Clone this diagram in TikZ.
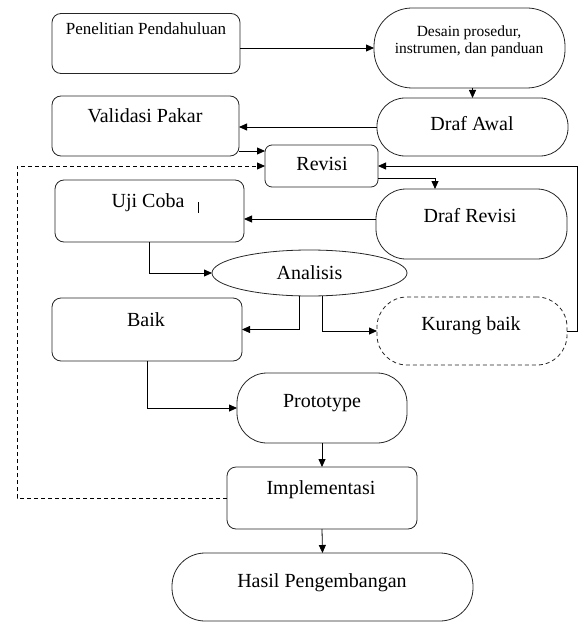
\documentclass[tikz,border=0pt]{standalone}
\usepackage{fontspec}
\setmainfont{Liberation Serif}
\usetikzlibrary{arrows.meta,calc,shapes.geometric}
\begin{document}
\begin{tikzpicture}[x=1pt,y=-1pt,
  box/.style={draw=black!85, line width=0.8pt, rounded corners=9pt, inner sep=0pt, outer sep=0pt},
  pill/.style={draw=black!85, line width=0.8pt, rounded corners=#1, inner sep=0pt, outer sep=0pt},
  lbl/.style={font=\fontsize{20}{24}\selectfont, inner sep=0pt, anchor=base},
  sml/.style={font=\fontsize{15.5}{18}\selectfont, inner sep=0pt, anchor=base},
  arr/.style={line width=0.8pt, -{Triangle[length=8pt,width=7pt]}},
  dsh/.style={dash pattern=on 4pt off 3pt}]
\useasboundingbox (0,0) rectangle (579,623);

% boxes
\node[box, minimum width=188pt, minimum height=60pt] (pen) at (146,43.5) {};
\node[pill=38pt, minimum width=191pt, minimum height=80pt] (des) at (469.5,48) {};
\node[box, minimum width=187pt, minimum height=60pt] (val) at (145.5,126) {};
\node[pill=28pt, minimum width=191pt, minimum height=58pt] (awal) at (472.5,127) {};
\node[box, rounded corners=7pt, minimum width=113pt, minimum height=42pt] (rev) at (321.5,166) {};
\node[box, minimum width=189pt, minimum height=62pt] (uji) at (149.5,211) {};
\node[pill=30pt, minimum width=191pt, minimum height=70pt] (drev) at (471.5,224) {};
\node[draw=black!85, line width=0.8pt, ellipse, inner sep=0pt, outer sep=0pt, minimum width=195pt, minimum height=46pt] (ana) at (309.5,273) {};
\node[box, minimum width=190pt, minimum height=63pt] (baik) at (147,329.5) {};
\node[pill=30pt, dsh, minimum width=190pt, minimum height=68pt] (kur) at (472,331) {};
\node[pill=30pt, minimum width=170pt, minimum height=70pt] (proto) at (322,408) {};
\node[box, minimum width=190pt, minimum height=62pt] (impl) at (322,498) {};
\node[pill=33pt, minimum width=301pt, minimum height=68pt] (hasil) at (322.5,587) {};

% texts (positioned by baseline)
\node[lbl, font=\fontsize{17}{20}\selectfont] (pentxt) at (146,35) {Penelitian Pendahuluan};
\node[sml] (destxta) at (469,37) {Desain prosedur,};
\node[sml] (destxtb) at (469,54) {instrumen, dan panduan};
\node[lbl] (valtxt) at (145,122) {Validasi Pakar};
\node[lbl] (awaltxt) at (472,130) {Draf Awal};
\node[lbl] (revtxt) at (322,170) {Revisi};
\node[lbl] (ujitxt) at (148,207) {Uji Coba};
\node[lbl] (drevtxt) at (470,222) {Draf Revisi};
\node[lbl] (anatxt) at (309.5,279) {Analisis};
\node[lbl] (baiktxt) at (146,326) {Baik};
\node[lbl] (kurtxt) at (471,330) {Kurang baik};
\node[lbl] (prototxt) at (322,407) {Prototype};
\node[lbl] (impltxt) at (321,494) {Implementasi};
\node[lbl] (hasiltxt) at (322,587) {Hasil Pengembangan};

% cursor mark
\draw[line width=0.7pt] (198,202) -- (198,213);

% helper coordinates
\coordinate (revin) at ($(rev.north west)+(0,6)$);
\coordinate (dl) at (17,0);
\coordinate (kr) at (577.5,0);
\coordinate (rd) at ($(rev.south east)+(0,-9)$);
\coordinate (dt) at (435,0);
\coordinate (dw) at ($(drev.west)+(0,-5)$);
\coordinate (as1) at ($(ana.south)+(-10,0)$);
\coordinate (as2) at ($(ana.south)+(13,0)$);

% connectors
\draw[arr] (pen.east |- des.west) -- (des.west);
\draw[arr] (awal.north |- des.south) -- (awal.north);
\draw[arr] (awal.west) -- (val.east |- awal.west);
\draw[arr] (val.east |- revin) -- (revin);
\draw[arr, dsh] (impl.west) -- (dl |- impl.west) -- (dl |- rev.west) -- (rev.west);
\draw[arr] (kur.east) -- (kr |- kur.east) -- (kr |- rev.east) -- (rev.east);
\draw[arr] (rd) -| (dt |- drev.north);
\draw[arr] (dw) -- (uji.east |- dw);
\draw[arr] (uji.south) |- (ana.west);
\draw[arr] (as1) |- (baik.east);
\draw[arr] (as2) |- (kur.west);
\draw[arr] (baik.south) |- (proto.west);
\draw[arr] (proto.south) -- (impl.north);
\draw[arr] (impl.south) -- (hasil.north);
\end{tikzpicture}
\end{document}
